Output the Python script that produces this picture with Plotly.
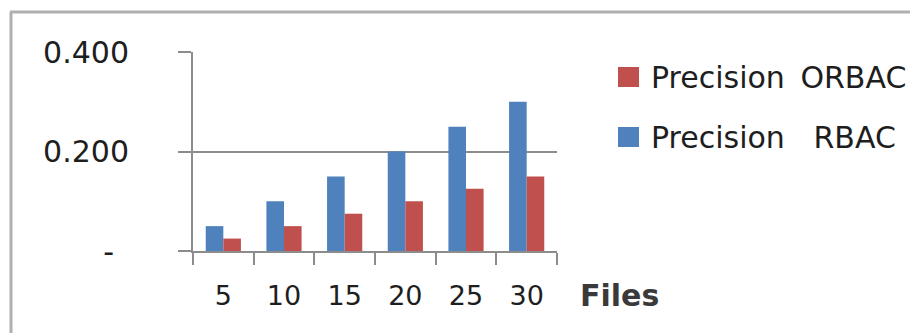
import plotly.graph_objects as go

# Data
files = ["5", "10", "15", "20", "25", "30"]
precision_rbac = [0.050, 0.100, 0.150, 0.200, 0.250, 0.300]
precision_orbac = [0.025, 0.050, 0.075, 0.100, 0.125, 0.150]
y_tick_vals = [0.0, 0.2, 0.4]
y_tick_text = ["-\u2002", "0.200", "0.400"]

name_rbac = "Precision\u00a0\u00a0\u00a0RBAC"
name_orbac = "Precision\u00a0\u2009ORBAC"
x_title = "Files"

BLUE = "#4F81BD"
RED = "#C0504D"
GRID = "#8c8c8c"
TEXT = "#1e1e1e"
FONT = "DejaVu Sans"

W, H = 910, 333
L, R, T, B = 193, W - 557, 52, H - 251


def px_x(x):
    return (x - L) / (W - L - R)


def px_y(y):
    return (H - B - y) / (H - T - B)


fig = go.Figure()
fig.add_trace(go.Bar(x=files, y=precision_rbac, name=name_rbac,
                     marker=dict(color=BLUE, line=dict(width=0)), showlegend=False))
fig.add_trace(go.Bar(x=files, y=precision_orbac, name=name_orbac,
                     marker=dict(color=RED, line=dict(width=0)), showlegend=False))

# outer frame
fig.add_shape(type="line", xref="paper", yref="paper",
              x0=px_x(11), x1=px_x(11), y0=px_y(12), y1=px_y(345),
              line=dict(color="#b0b0b0", width=3))
fig.add_shape(type="line", xref="paper", yref="paper",
              x0=px_x(10), x1=px_x(930), y0=px_y(12), y1=px_y(12),
              line=dict(color="#b0b0b0", width=3))

# legend entries (ORBAC listed first)
legend_rows = [(RED, name_orbac, 77), (BLUE, name_rbac, 137)]
for color, label, yc in legend_rows:
    fig.add_shape(type="rect", xref="paper", yref="paper",
                  x0=px_x(618), x1=px_x(639), y0=px_y(yc - 10), y1=px_y(yc + 10),
                  fillcolor=color, line=dict(width=0))
    fig.add_annotation(xref="paper", yref="paper", x=px_x(649), y=px_y(yc),
                       xanchor="left", yanchor="middle", showarrow=False,
                       text=label, font=dict(family=FONT, size=30, color=TEXT))

# axis title beside the category labels
fig.add_annotation(xref="paper", yref="paper", x=px_x(578), y=px_y(295),
                   xanchor="left", yanchor="middle", showarrow=False,
                   text=f"<b>{x_title}</b>",
                   font=dict(family=FONT, size=30, color="#3a3a3a"))

fig.update_layout(
    width=W, height=H,
    margin=dict(l=L, r=R, t=T, b=B, pad=0),
    paper_bgcolor="white", plot_bgcolor="white",
    barmode="group", bargap=0.42, bargroupgap=0,
    showlegend=False,
    xaxis=dict(type="category", tickson="boundaries", ticks="outside",
               ticklen=12, tickwidth=2, tickcolor=GRID,
               showline=True, linecolor=GRID, linewidth=2,
               showgrid=False, ticklabelstandoff=20,
               tickfont=dict(family=FONT, size=27, color=TEXT)),
    yaxis=dict(range=[0, 0.4], tickvals=y_tick_vals, ticktext=y_tick_text,
               ticks="outside", ticklen=13, tickwidth=2, tickcolor=GRID,
               showline=True, linecolor=GRID, linewidth=2,
               showgrid=True, gridcolor=GRID, gridwidth=2, zeroline=False,
               ticklabelstandoff=43,
               tickfont=dict(family=FONT, size=30, color=TEXT)),
)

fig.write_html("out.html")
